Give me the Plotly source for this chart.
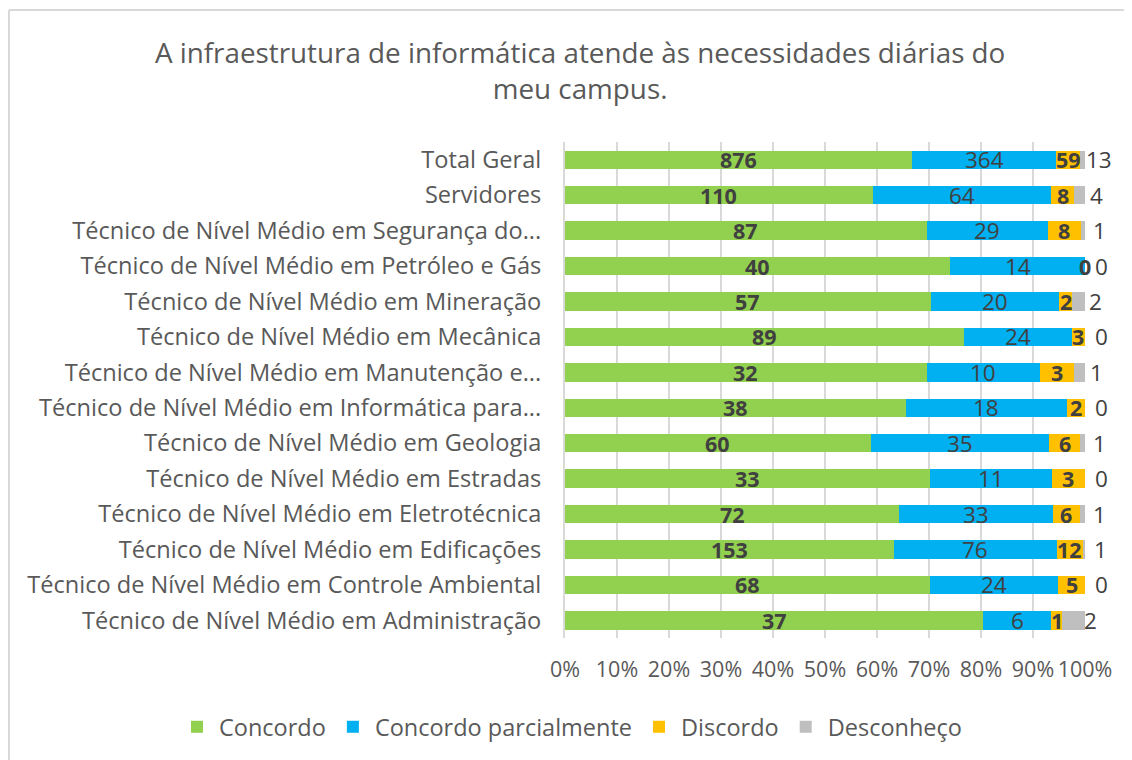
import plotly.graph_objects as go

categories = [
    "Total Geral",
    "Servidores",
    "Técnico de Nível Médio em Segurança do...",
    "Técnico de Nível Médio em Petróleo e Gás",
    "Técnico de Nível Médio em Mineração",
    "Técnico de Nível Médio em Mecânica",
    "Técnico de Nível Médio em Manutenção e...",
    "Técnico de Nível Médio em Informática para...",
    "Técnico de Nível Médio em Geologia",
    "Técnico de Nível Médio em Estradas",
    "Técnico de Nível Médio em Eletrotécnica",
    "Técnico de Nível Médio em Edificações",
    "Técnico de Nível Médio em Controle Ambiental",
    "Técnico de Nível Médio em Administração",
]
concordo = [876, 110, 87, 40, 57, 89, 32, 38, 60, 33, 72, 153, 68, 37]
concordo_parcial = [364, 64, 29, 14, 20, 24, 10, 18, 35, 11, 33, 76, 24, 6]
discordo = [59, 8, 8, 0, 2, 3, 3, 2, 6, 3, 6, 12, 5, 1]
desconheco = [13, 4, 1, 0, 2, 0, 1, 0, 1, 0, 1, 1, 0, 2]

series = [
    ("Concordo", concordo, "#92D050"),
    ("Concordo parcialmente", concordo_parcial, "#00B0F0"),
    ("Discordo", discordo, "#FFC000"),
    ("Desconheço", desconheco, "#BFBFBF"),
]

totals = [sum(v) for v in zip(concordo, concordo_parcial, discordo, desconheco)]
FONT = "Open Sans"
GREY = "#595959"
DARK = "#404040"

# figure is placed by the page at (8, 8); size it so it ends at the window edge
W, H = 1124, 752
ML, MR, MT, MB = 557, 47, 134, 122
PW, PH = W - ML - MR, H - MT - MB

fig = go.Figure()
cum = [0.0] * len(categories)
annotations = []
for idx, (name, vals, color) in enumerate(series):
    pct = [v / t * 100 for v, t in zip(vals, totals)]
    fig.add_trace(go.Bar(
        y=categories, x=pct, name=name, orientation="h",
        marker=dict(color=color, line=dict(width=0)),
        hoverinfo="skip",
    ))
    for i, (v, p) in enumerate(zip(vals, pct)):
        center = min(cum[i] + p / 2, 99.99)
        bold = idx in (0, 2)
        ann = dict(x=center, y=categories[i], text=(f"<b>{v}</b>" if bold else str(v)),
                   showarrow=False,
                   font=dict(family=FONT, size=(21.5 if bold else 22.5), color=DARK))
        if idx == 3:
            ann["xshift"] = 17
        annotations.append(ann)
        cum[i] += p

top_y = ((MT + PH) - 2) / PH
left_x = (1 - ML) / PW

fig.update_layout(
    barmode="stack",
    bargap=0.48,
    width=W, height=H,
    margin=dict(l=ML, r=MR, t=MT, b=MB, autoexpand=False),
    paper_bgcolor="white", plot_bgcolor="white",
    title=dict(
        text="A infraestrutura de informática atende às necessidades diárias do<br>meu campus.",
        x=0.509, xanchor="center", yref="container", y=1 - 55 / H, yanchor="middle",
        font=dict(family=FONT, size=27.8, color=GREY),
    ),
    xaxis=dict(
        range=[0, 100], dtick=10, ticksuffix="%",
        showgrid=True, gridcolor="#D9D9D9", gridwidth=2,
        zeroline=False, showline=False, automargin=False,
        tickfont=dict(family=FONT, size=21.5, color=GREY),
        ticklabelstandoff=16,
        fixedrange=True,
    ),
    yaxis=dict(
        autorange="reversed", showgrid=False, automargin=False,
        showline=True, linecolor="#D9D9D9", linewidth=2,
        tickfont=dict(family=FONT, size=23.6, color=GREY),
        ticklabelstandoff=17,
        fixedrange=True,
    ),
    legend=dict(
        orientation="h", xref="paper", yref="paper",
        x=(167 - ML) / PW, xanchor="left", y=((MT + PH) - 719) / PH, yanchor="middle",
        font=dict(family=FONT, size=23.5, color=GREY),
        traceorder="normal",
        itemwidth=34,
    ),
    annotations=annotations,
    shapes=[
        dict(type="line", xref="paper", yref="paper",
             x0=left_x, x1=1.2, y0=top_y, y1=top_y,
             line=dict(color="#D9D9D9", width=2), layer="below"),
        dict(type="line", xref="paper", yref="paper",
             x0=left_x, x1=left_x, y0=-0.3, y1=top_y,
             line=dict(color="#D9D9D9", width=2), layer="below"),
    ],
    showlegend=True,
)

fig.write_html("out.html")
